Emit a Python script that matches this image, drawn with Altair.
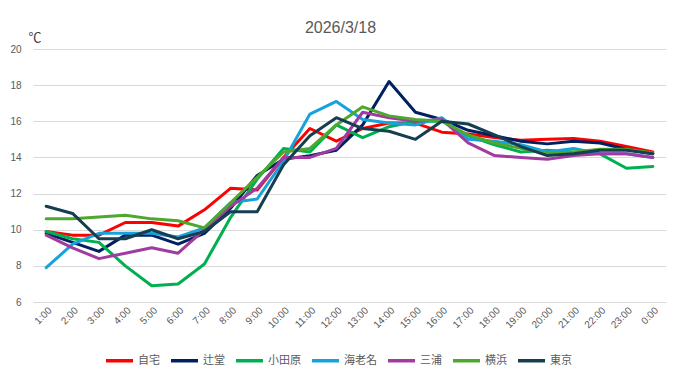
import altair as alt
import pandas as pd

hours = ["1:00", "2:00", "3:00", "4:00", "5:00", "6:00", "7:00", "8:00", "9:00", "10:00",
         "11:00", "12:00", "13:00", "14:00", "15:00", "16:00", "17:00", "18:00", "19:00",
         "20:00", "21:00", "22:00", "23:00", "0:00"]

jitaku = [9.9, 9.7, 9.7, 10.4, 10.4, 10.2, 11.1, 12.3, 12.2, 14.0, 15.6, 14.9, 15.6, 15.9,
          15.9, 15.4, 15.3, 15.1, 14.95, 15.0, 15.05, 14.9, 14.6, 14.3]
tsujido = [9.8, 9.3, 8.8, 9.7, 9.7, 9.2, 9.8, 11.2, 13.0, 13.9, 14.1, 14.4, 15.8, 18.2,
           16.5, 16.1, 15.5, 15.2, 14.9, 14.75, 14.9, 14.8, 14.45, 14.2]
odawara = [9.9, 9.5, 9.3, 8.0, 6.9, 7.0, 8.1, 10.7, 12.8, 14.5, 14.3, 15.8, 15.1, 15.7,
           16.0, 16.0, 15.2, 14.7, 14.3, 14.4, 14.3, 14.2, 13.4, 13.5]
ebina = [7.9, 9.2, 9.8, 9.8, 9.8, 9.6, 10.1, 11.5, 11.7, 13.8, 16.4, 17.1, 16.1, 15.9,
         15.8, 16.2, 15.0, 14.9, 14.7, 14.3, 14.5, 14.2, 14.2, 14.0]
miura = [9.7, 9.0, 8.4, 8.7, 9.0, 8.7, 10.0, 11.3, 12.3, 14.0, 14.0, 14.5, 16.5, 16.2,
         16.0, 16.1, 14.8, 14.1, 14.0, 13.9, 14.1, 14.2, 14.2, 14.0]
yokohama = [10.6, 10.6, 10.7, 10.8, 10.6, 10.5, 10.1, 11.5, 12.9, 14.3, 14.5, 15.8, 16.8,
            16.3, 16.1, 16.0, 15.25, 14.8, 14.5, 14.2, 14.3, 14.45, 14.45, 14.25]
tokyo = [11.3, 10.9, 9.5, 9.5, 10.0, 9.5, 9.9, 11.0, 11.0, 13.6, 15.2, 16.2, 15.6, 15.45,
         15.0, 16.0, 15.85, 15.25, 14.6, 14.1, 14.2, 14.4, 14.4, 14.2]

series_names = ["自宅", "辻堂", "小田原", "海老名", "三浦", "横浜", "東京"]
series_values = [jitaku, tsujido, odawara, ebina, miura, yokohama, tokyo]
colors = ["#FF0000", "#002060", "#00B050", "#17A2DC", "#A03CA0", "#4EA72E", "#173D50"]
y_ticks = [6, 8, 10, 12, 14, 16, 18, 20]

rows = []
for name, vals in zip(series_names, series_values):
    for h, v in zip(hours, vals):
        rows.append({"時刻": h, "地点": name, "気温": v})
df = pd.DataFrame(rows)

FONT = "Liberation Sans, Noto Sans CJK JP"
GRAY = "#595959"

chart = alt.Chart(df).mark_line(strokeWidth=3, strokeJoin="round", strokeCap="round").encode(
    x=alt.X("時刻:N", sort=hours, title=None,
            scale=alt.Scale(padding=0.5),
            axis=alt.Axis(labelAngle=-45, labelFontSize=10, labelColor=GRAY, labelFont=FONT,
                          ticks=False, domain=False, grid=False, labelPadding=3)),
    y=alt.Y("気温:Q", title="℃",
            scale=alt.Scale(domain=[6, 20], nice=False, zero=False),
            axis=alt.Axis(values=y_ticks, labelFontSize=10, labelColor=GRAY, labelFont=FONT,
                          ticks=False, domain=False, grid=True, gridColor="#D9D9D9",
                          labelPadding=12, titleAngle=0, titleX=-5, titleY=-12,
                          titleAlign="left", titleBaseline="middle", titleFontSize=13,
                          titleFontWeight="normal", titleColor="#404040", titleFont=FONT)),
    color=alt.Color("地点:N", sort=series_names,
                    scale=alt.Scale(domain=series_names, range=colors),
                    legend=alt.Legend(title=None, orient="none", direction="horizontal",
                                      legendX=71, legendY=296, symbolType="stroke",
                                      symbolSize=729, symbolStrokeWidth=3.5,
                                      labelFontSize=11, labelColor=GRAY, labelFont=FONT,
                                      labelOffset=3, columnPadding=4, padding=0)),
    order=alt.Order("地点:N"),
).properties(
    width=633, height=253,
    title=alt.TitleParams("2026/3/18", fontSize=16, fontWeight="normal", color=GRAY,
                          font=FONT, anchor="middle", offset=0, dx=-9, dy=5),
    autosize=alt.AutoSizeParams(type="none"),
    padding={"left": 25, "top": 41, "right": 5, "bottom": 69},
).configure_view(stroke=None)

chart.save("out.html", embed_options={"renderer": "svg", "actions": False})
